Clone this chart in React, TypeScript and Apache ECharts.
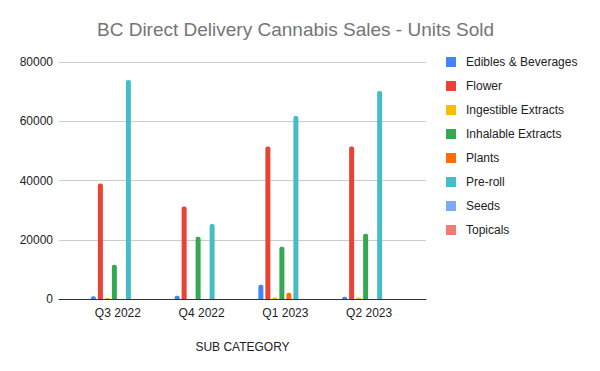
import React, { useEffect, useRef } from "react";
import * as echarts from "echarts";

const categories = ["Q3 2022", "Q4 2022", "Q1 2023", "Q2 2023"];
const seriesNames = [
  "Edibles & Beverages",
  "Flower",
  "Ingestible Extracts",
  "Inhalable Extracts",
  "Plants",
  "Pre-roll",
  "Seeds",
  "Topicals",
];
const ediblesBeverages = [900, 1100, 4800, 800];
const flower = [39000, 31200, 51500, 51500];
const ingestibleExtracts = [300, 0, 500, 500];
const inhalableExtracts = [11600, 21000, 17600, 22000];
const plants = [0, 0, 2100, 0];
const preRoll = [73900, 25300, 61800, 70200];
const seeds = [0, 0, 0, 0];
const topicals = [0, 0, 0, 0];
const yTicks = [0, 20000, 40000, 60000, 80000];

const seriesData = [
  ediblesBeverages,
  flower,
  ingestibleExtracts,
  inhalableExtracts,
  plants,
  preRoll,
  seeds,
  topicals,
];
const colors = [
  "#4285F4",
  "#EA4335",
  "#FBBC04",
  "#34A853",
  "#FF6D01",
  "#46BDC6",
  "#7BAAF7",
  "#F07B72",
];

const FONT = "Arial, 'Liberation Sans', sans-serif";

export default function App() {
  const ref = useRef<HTMLDivElement>(null);
  useEffect(() => {
    if (!ref.current) return;
    const chart = echarts.init(ref.current, null, { renderer: "svg" });
    const yMin = yTicks[0];
    const yMax = yTicks[yTicks.length - 1];
    const yInterval = yTicks[1] - yTicks[0];
    chart.setOption({
      animation: false,
      backgroundColor: "#ffffff",
      textStyle: { fontFamily: FONT },
      title: {
        text: "BC Direct Delivery Cannabis Sales - Units Sold",
        left: 92,
        top: 15,
        textStyle: {
          fontFamily: FONT,
          fontSize: 19,
          fontWeight: "normal",
          color: "#757575",
        },
      },
      legend: {
        orient: "vertical",
        left: 446,
        top: 55,
        padding: 0,
        itemWidth: 10,
        itemHeight: 10,
        itemGap: 10,
        icon: "rect",
        data: seriesNames,
        textStyle: {
          fontFamily: FONT,
          fontSize: 12,
          color: "#222222",
          padding: [0, 0, 0, 5],
          lineHeight: 14,
        },
      },
      grid: [
        { left: 59, right: 174, top: 62, bottom: 72, containLabel: false },
        { left: 76, right: 189, top: 62, bottom: 72, containLabel: false },
      ],
      xAxis: [
        {
          gridIndex: 0,
          type: "category",
          data: categories,
          axisLine: { show: true, lineStyle: { color: "#333333", width: 1 } },
          axisTick: { show: false },
          axisLabel: { show: false },
          splitLine: { show: false },
          name: "SUB CATEGORY",
          nameLocation: "middle",
          nameGap: 42,
          nameTextStyle: { fontFamily: FONT, fontSize: 12, color: "#222222" },
        },
        {
          gridIndex: 1,
          type: "category",
          data: categories,
          axisLine: { show: false },
          axisTick: { show: false },
          axisLabel: {
            show: true,
            margin: 8,
            fontFamily: FONT,
            fontSize: 12,
            color: "#222222",
          },
          splitLine: { show: false },
        },
      ],
      yAxis: [
        {
          gridIndex: 0,
          type: "value",
          min: yMin,
          max: yMax,
          interval: yInterval,
          axisLine: { show: false },
          axisTick: { show: false },
          axisLabel: {
            margin: 6,
            fontFamily: FONT,
            fontSize: 12,
            color: "#222222",
            formatter: (v: number) => String(v),
          },
          splitLine: { show: true, lineStyle: { color: "#cccccc", width: 1 } },
        },
        {
          gridIndex: 1,
          type: "value",
          min: yMin,
          max: yMax,
          interval: yInterval,
          show: false,
          splitLine: { show: false },
        },
      ],
      series: seriesNames.map((name, i) => ({
        name,
        type: "bar",
        xAxisIndex: 1,
        yAxisIndex: 1,
        data: seriesData[i],
        barWidth: 5,
        barGap: "40%",
        itemStyle: { color: colors[i], borderRadius: [2, 2, 0, 0] },
      })),
    });
    return () => chart.dispose();
  }, []);
  return (
    <div
      ref={ref}
      style={{ position: "absolute", left: 0, top: 0, width: 600, height: 371 }}
    />
  );
}
